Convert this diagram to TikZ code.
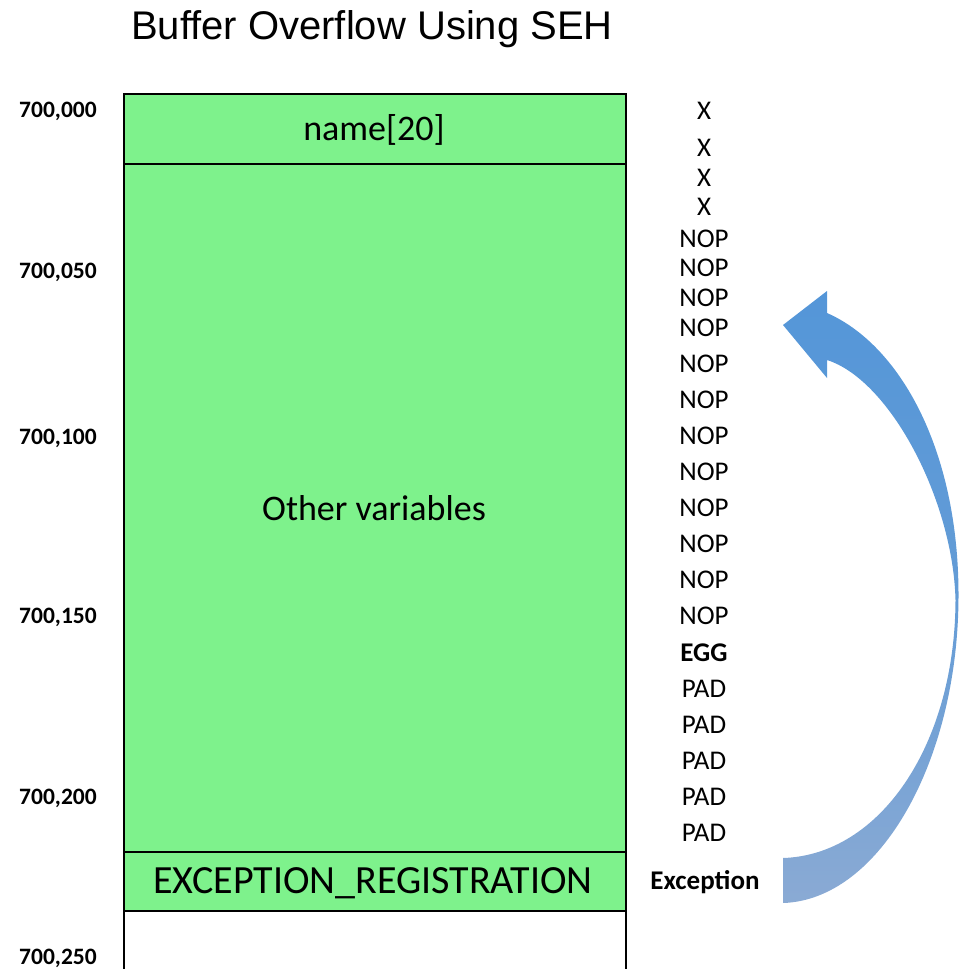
\documentclass[tikz,border=0pt]{standalone}
\usepackage{fontspec}
\setmainfont{Carlito}
\newfontfamily\titlefont{Liberation Sans}
\definecolor{cellgreen}{RGB}{126,242,140}
\definecolor{arrowtop}{RGB}{84,150,216}
\definecolor{arrowmid}{RGB}{100,156,214}
\definecolor{arrowbot}{RGB}{138,170,212}
\tikzset{
  cell/.style={draw=black, line width=1.3pt, fill=cellgreen},
  addr/.style={font=\fontsize{23.5}{25}\selectfont\bfseries, anchor=center, text depth=0pt},
  slot/.style={font=\fontsize{27}{29}\selectfont, anchor=center},
  slotbold/.style={slot, font=\fontsize{27}{29}\selectfont\bfseries},
  celltext/.style={font=\fontsize{36}{39}\selectfont, anchor=center},
}
\begin{document}
\begin{tikzpicture}[x=1pt, y=-1pt]
\useasboundingbox (0,0) rectangle (963,969);

% title
\node[font=\titlefont\fontsize{40}{43}\selectfont] (title) at (372,29) {Buffer Overflow Using SEH};

% stack frame cells
\fill[white] (124,911) rectangle (626,969);
\draw[black, line width=1.3pt] (124,911) -- (124,969) (626,911) -- (626,969);
\draw[cell] (124,94) rectangle (626,164);
\draw[cell] (124,164) rectangle (626,852);
\draw[cell] (124,852) rectangle (626,911);

\node[celltext] (name) at (374,130) {name[20]};
\node[celltext] (other) at (374,508) {Other variables};
\node[celltext, font=\fontsize{40}{43}\selectfont] (excreg) at (373,883) {EXCEPTION\_REGISTRATION};

% addresses
\node[addr] (a0) at (58,110) {700,000};
\node[addr] (a1) at (58,271) {700,050};
\node[addr] (a2) at (58,437) {700,100};
\node[addr] (a3) at (58,616) {700,150};
\node[addr] (a4) at (58,797) {700,200};
\node[addr] (a5) at (58,957) {700,250};

% overflow payload
\foreach \y [count=\i] in {111,148,178,207}
  \node[slot] (x\i) at (704,\y) {X};
\foreach \y [count=\i] in {239,268,298,328,364,400,436,472,508,544,580,616}
  \node[slot] (nop\i) at (704,\y) {NOP};
\node[slotbold] (egg) at (704,653) {EGG};
\foreach \y [count=\i] in {689,725,761,797,833}
  \node[slot] (pad\i) at (704,\y) {PAD};
\node[slotbold] (exc) at (705,882) {Exception};

% curved jump arrow from the handler back into the sled
\coordinate (tip) at (783,325);
\coordinate (barbup) at (827,291);
\coordinate (barbdn) at (827,378);
\coordinate (neckout) at (827,313);
\coordinate (neckin) at (827,360);
\coordinate (tailtop) at (783,858);
\coordinate (tailbot) at (783,903);
\shade[top color=arrowtop, bottom color=arrowbot, middle color=arrowmid]
  (tip) -- (barbup) -- (neckout)
  .. controls (900,345) and (958.5,450) .. (958.5,595)
  .. controls (958.5,760) and (880,900) .. (tailbot)
  -- (tailtop)
  .. controls (880,855) and (955,745) .. (955.5,600)
  .. controls (953,500) and (890,380) .. (neckin)
  -- (barbdn) -- cycle;
\end{tikzpicture}
\end{document}
